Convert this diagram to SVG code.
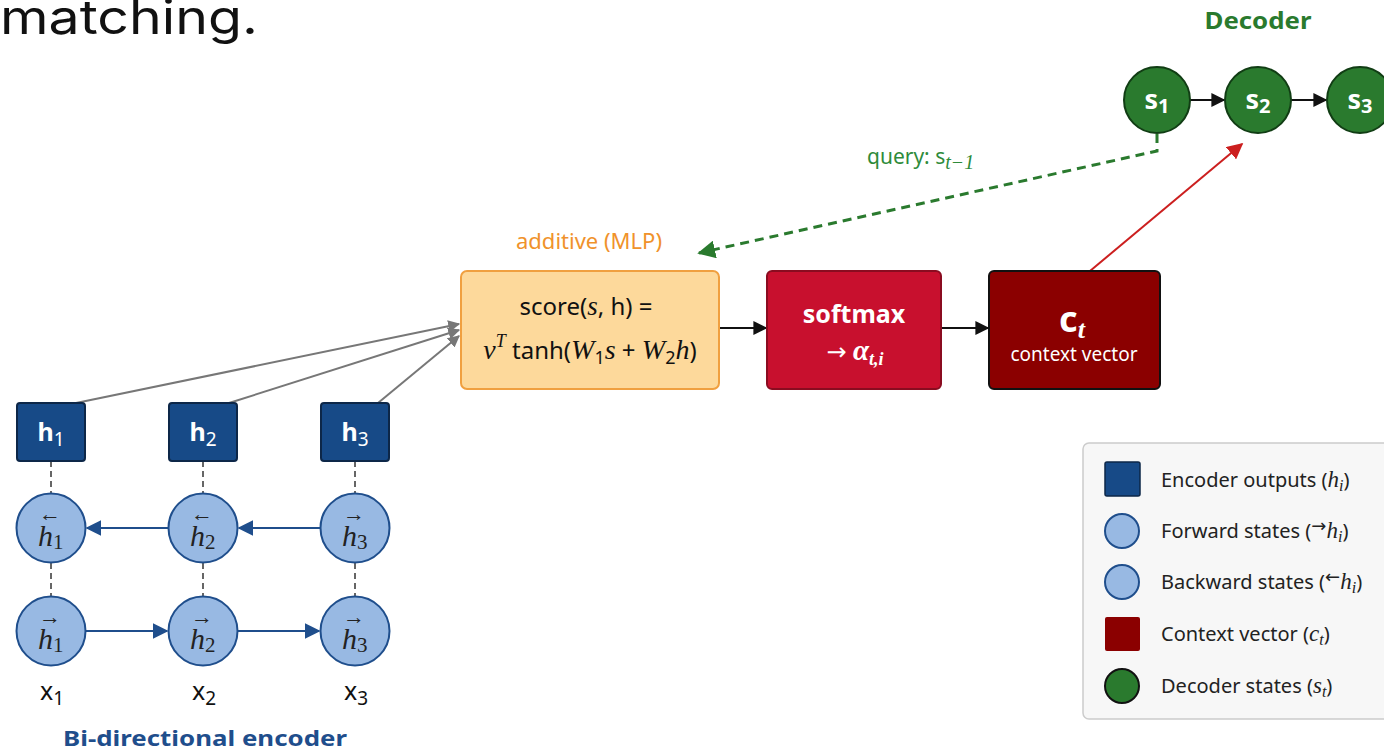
<svg xmlns="http://www.w3.org/2000/svg" width="1384" height="750" viewBox="0 0 1384 750">
<style>
.sans{font-family:"Noto Sans","Open Sans","Liberation Sans",sans-serif}
.math{font-family:"Liberation Serif","DejaVu Serif",serif;font-style:italic}
.enc{fill:#174a87;stroke:#0d2748;stroke-width:2}
.st{fill:#98b9e3;stroke:#1f4e8c;stroke-width:2}
.dec{fill:#2a7a2e;stroke:#113d14;stroke-width:2}
.dash{stroke:#666;stroke-width:2;stroke-dasharray:6 4;fill:none}
.blue{stroke:#1f4e8c;stroke-width:2.2;fill:none}
.gray{stroke:#777;stroke-width:2;fill:none}
.blk{stroke:#111;stroke-width:2;fill:none}
.wt{fill:#fff}
.acc{font-style:normal;font-size:22px}
.hl{font-size:30px}
.sub{font-style:normal;font-size:21px}
</style>
<defs>
<marker id="ag" viewBox="0 0 10 10" refX="9" refY="5" markerWidth="12" markerHeight="12" markerUnits="userSpaceOnUse" orient="auto"><path d="M0,0 L10,5 L0,10 z" fill="#777"/></marker>
<marker id="ak" viewBox="0 0 10 10" refX="9" refY="5" markerWidth="14" markerHeight="14" markerUnits="userSpaceOnUse" orient="auto"><path d="M0,0 L10,5 L0,10 z" fill="#111"/></marker>
<marker id="agr" viewBox="0 0 10 10" refX="9" refY="5" markerWidth="18" markerHeight="18" markerUnits="userSpaceOnUse" orient="auto"><path d="M0,0 L10,5 L0,10 z" fill="#2a7a2e"/></marker>
<marker id="ar" viewBox="0 0 10 10" refX="9" refY="5" markerWidth="16" markerHeight="16" markerUnits="userSpaceOnUse" orient="auto"><path d="M0,0 L10,5 L0,10 z" fill="#cc1f1f"/></marker>
<marker id="abl" viewBox="0 0 10 10" refX="9" refY="5" markerWidth="16" markerHeight="16" markerUnits="userSpaceOnUse" orient="auto"><path d="M0,0 L10,5 L0,10 z" fill="#1f4e8c"/></marker>
</defs>
<rect width="1384" height="750" fill="#fff"/>
<text x="0" y="34" font-family="Inter,'Noto Sans','Liberation Sans',sans-serif" font-size="47" fill="#111" textLength="258" lengthAdjust="spacingAndGlyphs">matching.</text>

<g id="connectors">
  <path class="dash" d="M51,461 V494 M203,461 V494 M355,461 V494 M51,563 V597 M203,563 V597 M355,563 V597"/>
  <line class="blue" x1="168" y1="528" x2="87" y2="528" marker-end="url(#abl)"/>
  <line class="blue" x1="320" y1="528" x2="239" y2="528" marker-end="url(#abl)"/>
  <line class="blue" x1="86" y1="631" x2="167" y2="631" marker-end="url(#abl)"/>
  <line class="blue" x1="238" y1="631" x2="319" y2="631" marker-end="url(#abl)"/>
  <line class="gray" x1="76" y1="403" x2="459" y2="324" marker-end="url(#ag)"/>
  <line class="gray" x1="229" y1="403" x2="459" y2="330" marker-end="url(#ag)"/>
  <line class="gray" x1="378" y1="403" x2="459" y2="336" marker-end="url(#ag)"/>
  <line class="blk" x1="719" y1="328" x2="766" y2="328" marker-end="url(#ak)"/>
  <line class="blk" x1="941" y1="328" x2="988" y2="328" marker-end="url(#ak)"/>
  <line class="blk" x1="1190" y1="100" x2="1224" y2="100" marker-end="url(#ak)"/>
  <line class="blk" x1="1291" y1="100" x2="1326" y2="100" marker-end="url(#ak)"/>
  <path d="M1157,134 V151 L699,253" stroke="#2a7a2e" stroke-width="3" stroke-dasharray="9 6" fill="none" marker-end="url(#agr)"/>
  <line x1="1090" y1="271" x2="1242" y2="144" stroke="#cc1f1f" stroke-width="2" marker-end="url(#ar)"/>
</g>

<g id="h1"><rect class="enc" x="17" y="403" width="68" height="58" rx="3"/><text x="51" y="441" text-anchor="middle" class="sans wt" font-size="25" font-weight="bold">h<tspan font-size="19" font-weight="normal" dy="5">1</tspan></text></g>
<g id="h2"><rect class="enc" x="169" y="403" width="68" height="58" rx="3"/><text x="203" y="441" text-anchor="middle" class="sans wt" font-size="25" font-weight="bold">h<tspan font-size="19" font-weight="normal" dy="5">2</tspan></text></g>
<g id="h3"><rect class="enc" x="321" y="403" width="68" height="58" rx="3"/><text x="355" y="441" text-anchor="middle" class="sans wt" font-size="25" font-weight="bold">h<tspan font-size="19" font-weight="normal" dy="5">3</tspan></text></g>

<g id="hb1"><circle class="st" cx="51" cy="528" r="34.5"/><text class="math" fill="#222"><tspan class="acc" x="39" y="521">←</tspan><tspan class="hl" x="38" y="546">h</tspan><tspan class="sub" dy="3">1</tspan></text></g>
<g id="hb2"><circle class="st" cx="203" cy="528" r="34.5"/><text class="math" fill="#222"><tspan class="acc" x="191" y="521">←</tspan><tspan class="hl" x="190" y="546">h</tspan><tspan class="sub" dy="3">2</tspan></text></g>
<g id="hb3"><circle class="st" cx="355" cy="528" r="34.5"/><text class="math" fill="#222"><tspan class="acc" x="343" y="521">→</tspan><tspan class="hl" x="342" y="546">h</tspan><tspan class="sub" dy="3">3</tspan></text></g>

<g id="hf1"><circle class="st" cx="51" cy="631" r="34.5"/><text class="math" fill="#222"><tspan class="acc" x="39" y="624">→</tspan><tspan class="hl" x="38" y="649">h</tspan><tspan class="sub" dy="3">1</tspan></text></g>
<g id="hf2"><circle class="st" cx="203" cy="631" r="34.5"/><text class="math" fill="#222"><tspan class="acc" x="191" y="624">→</tspan><tspan class="hl" x="190" y="649">h</tspan><tspan class="sub" dy="3">2</tspan></text></g>
<g id="hf3"><circle class="st" cx="355" cy="631" r="34.5"/><text class="math" fill="#222"><tspan class="acc" x="343" y="624">→</tspan><tspan class="hl" x="342" y="649">h</tspan><tspan class="sub" dy="3">3</tspan></text></g>

<g id="xlabels" class="sans" font-size="25" fill="#111">
  <text x="52" y="700" text-anchor="middle">x<tspan font-size="19" dy="5">1</tspan></text>
  <text x="204" y="700" text-anchor="middle">x<tspan font-size="19" dy="5">2</tspan></text>
  <text x="356" y="700" text-anchor="middle">x<tspan font-size="19" dy="5">3</tspan></text>
</g>
<text id="enc-title" x="205" y="746" text-anchor="middle" class="sans" font-size="22" font-weight="bold" fill="#1f4e8c" textLength="284" lengthAdjust="spacingAndGlyphs">Bi-directional encoder</text>

<g id="score">
  <text x="589" y="249" text-anchor="middle" class="sans" font-size="22" fill="#f0922b">additive (MLP)</text>
  <rect x="461" y="271" width="258" height="118" rx="6" fill="#fdd99b" stroke="#f0a040" stroke-width="2"/>
  <text x="586" y="315" text-anchor="middle" class="sans" font-size="24" fill="#111">score(<tspan class="math" font-size="27">s</tspan>, h) =</text>
  <text x="590" y="359" text-anchor="middle" class="sans" font-size="24" fill="#111"><tspan class="math" font-size="28">v</tspan><tspan class="math" font-size="18" dy="-12">T</tspan><tspan dy="12"> tanh(</tspan><tspan class="math" font-size="28">W</tspan><tspan font-size="18" dy="5">1</tspan><tspan class="math" font-size="28" dy="-5">s</tspan> + <tspan class="math" font-size="28">W</tspan><tspan font-size="18" dy="5">2</tspan><tspan class="math" font-size="28" dy="-5">h</tspan>)</text>
</g>

<g id="softmax">
  <rect x="767" y="271" width="174" height="118" rx="5" fill="#c8102e" stroke="#8a0c20" stroke-width="2"/>
  <text x="854" y="323" text-anchor="middle" class="sans wt" font-size="25" font-weight="bold">softmax</text>
  <text x="855" y="360" text-anchor="middle" class="sans wt" font-size="24"><tspan font-family="'DejaVu Sans',sans-serif" font-size="24">→</tspan> <tspan class="math" font-weight="bold" font-size="29">α</tspan><tspan class="math" font-weight="bold" font-size="18" dy="5">t,i</tspan></text>
</g>

<g id="context">
  <rect x="989" y="271" width="171" height="118" rx="5" fill="#8b0000" stroke="#111" stroke-width="2"/>
  <text x="1072" y="332" text-anchor="middle" class="sans wt" font-size="36" font-weight="bold">c<tspan class="math" font-size="26" dy="6">t</tspan></text>
  <text x="1074" y="361" text-anchor="middle" class="sans wt" font-size="19">context vector</text>
</g>

<text id="dec-title" x="1258" y="29" text-anchor="middle" class="sans" font-size="24" font-weight="bold" fill="#2a7a2e" textLength="107" lengthAdjust="spacingAndGlyphs">Decoder</text>
<g id="s1"><circle class="dec" cx="1157" cy="100" r="33"/><text x="1157" y="109" text-anchor="middle" class="sans wt" font-size="27" font-weight="bold">s<tspan font-size="20" dy="4">1</tspan></text></g>
<g id="s2"><circle class="dec" cx="1258" cy="100" r="33"/><text x="1258" y="109" text-anchor="middle" class="sans wt" font-size="27" font-weight="bold">s<tspan font-size="20" dy="4">2</tspan></text></g>
<g id="s3"><circle class="dec" cx="1360" cy="100" r="33"/><text x="1360" y="109" text-anchor="middle" class="sans wt" font-size="27" font-weight="bold">s<tspan font-size="20" dy="4">3</tspan></text></g>

<text id="query" x="867" y="164" class="sans" font-size="21" fill="#2e8b3a">query: s<tspan class="math" font-size="20" dy="5">t−1</tspan></text>

<g id="legend">
  <rect x="1083" y="443" width="310" height="276" rx="6" fill="#f7f7f7" stroke="#ccc" stroke-width="1.5"/>
  <rect x="1105" y="462" width="35" height="34" rx="2" fill="#174a87" stroke="#0d2748" stroke-width="1.5"/>
  <circle cx="1122" cy="531" r="17" fill="#98b9e3" stroke="#1f4e8c" stroke-width="2"/>
  <circle cx="1122" cy="582" r="17" fill="#98b9e3" stroke="#1f4e8c" stroke-width="2"/>
  <rect x="1105" y="617" width="35" height="34" rx="2" fill="#8b0000"/>
  <circle cx="1122" cy="686" r="17" fill="#2a7a2e" stroke="#111" stroke-width="2"/>
  <g class="sans" font-size="20" fill="#222">
    <text x="1161" y="487">Encoder outputs (<tspan class="math" font-size="23">h</tspan><tspan class="math" font-size="16" dy="4">i</tspan><tspan dy="-4">)</tspan></text>
    <text x="1161" y="538">Forward states (<tspan font-family="'DejaVu Sans',sans-serif" font-size="18" dy="-6">→</tspan><tspan class="math" font-size="23" dy="6">h</tspan><tspan class="math" font-size="16" dy="4">i</tspan><tspan dy="-4">)</tspan></text>
    <text x="1161" y="589">Backward states (<tspan font-family="'DejaVu Sans',sans-serif" font-size="18" dy="-6">←</tspan><tspan class="math" font-size="23" dy="6">h</tspan><tspan class="math" font-size="16" dy="4">i</tspan><tspan dy="-4">)</tspan></text>
    <text x="1161" y="641">Context vector (<tspan class="math" font-size="23">c</tspan><tspan class="math" font-size="16" dy="4">t</tspan><tspan dy="-4">)</tspan></text>
    <text x="1161" y="693">Decoder states (<tspan class="math" font-size="23">s</tspan><tspan class="math" font-size="16" dy="4">t</tspan><tspan dy="-4">)</tspan></text>
  </g>
</g>
</svg>
